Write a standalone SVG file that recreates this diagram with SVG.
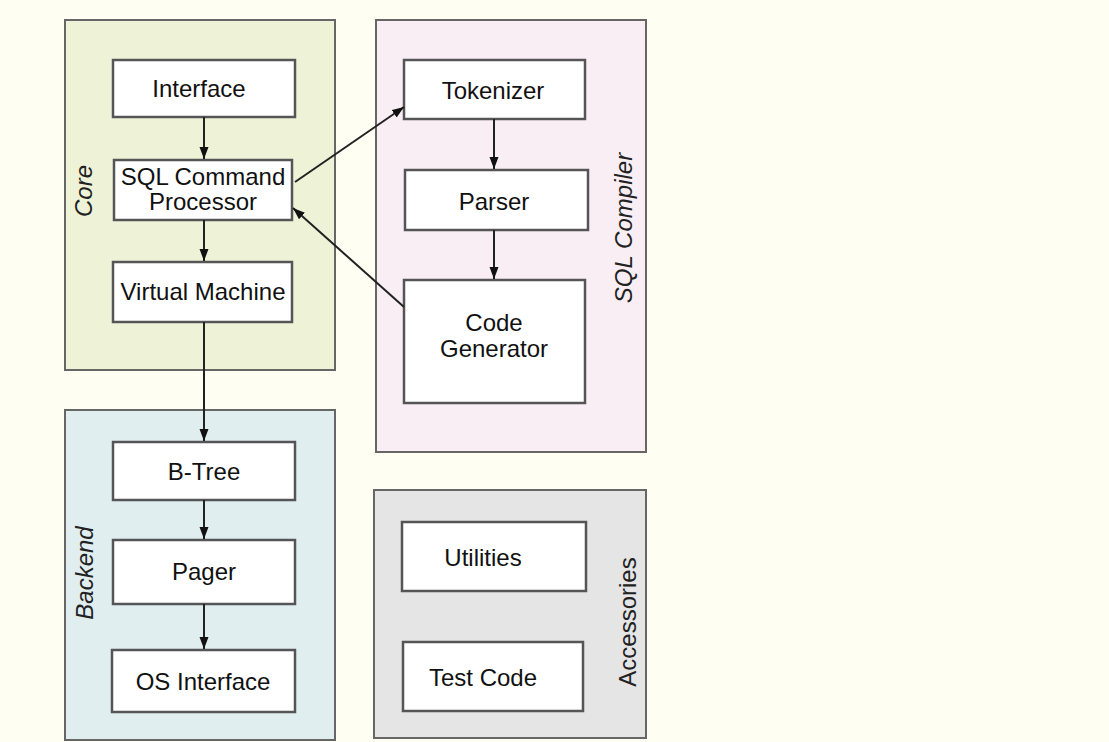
<svg xmlns="http://www.w3.org/2000/svg" width="1109" height="742" viewBox="0 0 1109 742">
<defs>
<marker id="ah" viewBox="0 0 12 10" refX="12" refY="5" markerWidth="12" markerHeight="10" markerUnits="userSpaceOnUse" orient="auto">
<path d="M0,0.5 L12,5 L0,9.5 Z" fill="#111"/>
</marker>
</defs>
<style>
.grp{stroke:#666;stroke-width:2}
.box{fill:#fff;stroke:#555;stroke-width:2.5}
.t{font-family:"Liberation Sans",Arial,sans-serif;font-size:24px;fill:#111;text-anchor:middle}
.lbl{font-family:"Liberation Sans",Arial,sans-serif;font-size:24px;fill:#222;text-anchor:middle}
.it{font-style:italic}
.c{stroke:#222;stroke-width:2;fill:none;marker-end:url(#ah)}
</style>
<rect x="0" y="0" width="1109" height="742" fill="#fefef3"/>
<g id="core">
<rect class="grp" x="65" y="20" width="270" height="350" fill="#eef3d8"/>
<text class="lbl it" transform="translate(92,191) rotate(-90)">Core</text>
</g>
<g id="sqlcompiler">
<rect class="grp" x="376" y="20" width="270" height="432" fill="#f8eef4"/>
<text class="lbl it" transform="translate(632,228) rotate(-90)">SQL Compiler</text>
</g>
<g id="backend">
<rect class="grp" x="65" y="410" width="270" height="330" fill="#e0eef0"/>
<text class="lbl it" transform="translate(93,573) rotate(-90)">Backend</text>
</g>
<g id="accessories">
<rect class="grp" x="374" y="490" width="272" height="248" fill="#e5e5e5"/>
<text class="lbl" transform="translate(636,622) rotate(-90)">Accessories</text>
</g>
<g id="interface">
<rect class="box" x="113" y="60" width="182" height="57"/>
<text class="t" x="199" y="97">Interface</text>
</g>
<g id="sqlcmd">
<rect class="box" x="114" y="160" width="178" height="60"/>
<text class="t" x="203" y="185">SQL Command</text>
<text class="t" x="203" y="210">Processor</text>
</g>
<g id="vm">
<rect class="box" x="113" y="262" width="179" height="60"/>
<text class="t" x="203" y="300">Virtual Machine</text>
</g>
<g id="tokenizer">
<rect class="box" x="404" y="60" width="181" height="59"/>
<text class="t" x="493" y="99">Tokenizer</text>
</g>
<g id="parser">
<rect class="box" x="405" y="170" width="183" height="60"/>
<text class="t" x="494" y="210">Parser</text>
</g>
<g id="codegen">
<rect class="box" x="404" y="280" width="181" height="123"/>
<text class="t" x="494" y="331">Code</text>
<text class="t" x="494" y="357">Generator</text>
</g>
<g id="btree">
<rect class="box" x="113" y="442" width="182" height="58"/>
<text class="t" x="204" y="480">B-Tree</text>
</g>
<g id="pager">
<rect class="box" x="113" y="540" width="182" height="64"/>
<text class="t" x="204" y="580">Pager</text>
</g>
<g id="osinterface">
<rect class="box" x="112" y="650" width="183" height="62"/>
<text class="t" x="203" y="690">OS Interface</text>
</g>
<g id="utilities">
<rect class="box" x="402" y="522" width="184" height="69"/>
<text class="t" x="483" y="566">Utilities</text>
</g>
<g id="testcode">
<rect class="box" x="403" y="642" width="180" height="69"/>
<text class="t" x="483" y="686">Test Code</text>
</g>
<g id="connectors">
<line class="c" x1="204" y1="117" x2="204" y2="159"/>
<line class="c" x1="204" y1="220" x2="204" y2="261"/>
<line class="c" x1="204" y1="322" x2="204" y2="441"/>
<line class="c" x1="204" y1="500" x2="204" y2="539"/>
<line class="c" x1="204" y1="604" x2="204" y2="649"/>
<line class="c" x1="494" y1="119" x2="494" y2="169"/>
<line class="c" x1="494" y1="230" x2="494" y2="279"/>
<line class="c" x1="295" y1="182" x2="404" y2="107"/>
<line class="c" x1="404" y1="307" x2="293" y2="208"/>
</g>
</svg>
